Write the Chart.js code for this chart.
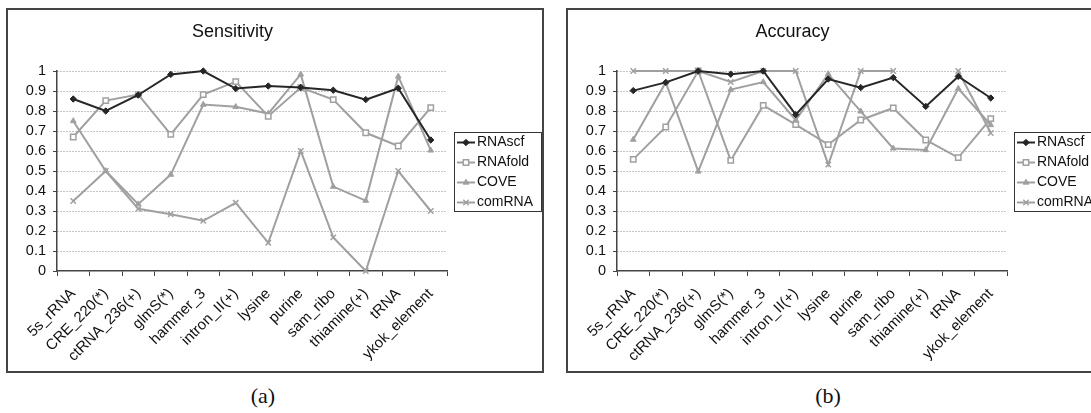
<!DOCTYPE html>
<html>
<head>
<meta charset="utf-8">
<script src="https://cdn.jsdelivr.net/npm/chart.js@4/dist/chart.umd.min.js"></script>
<style>
  html, body { margin: 0; padding: 0; background: #fff; }
  body { width: 1091px; height: 413px; overflow: hidden; position: relative; }
  .panel { position: absolute; top: 8px; width: 538px; height: 365px; border: 2px solid #444; box-sizing: border-box; background: #fff; }
  .panel canvas { display: block; }
  .caption { position: absolute; top: 383px; width: 60px; text-align: center; font: 22px "Liberation Serif", "DejaVu Serif", serif; color: #111; }
</style>
</head>
<body>
<div class="panel" style="left:6px"><canvas id="sensChart"></canvas></div>
<div class="panel" style="left:566px"><canvas id="accChart"></canvas></div>
<div class="caption" style="left:233px">(a)</div>
<div class="caption" style="left:798px">(b)</div>

<script>
// ===== Data =====
const categories = ["5s_rRNA", "CRE_220(*)", "ctRNA_236(+)", "glmS(*)", "hammer_3", "intron_II(+)",
  "lysine", "purine", "sam_ribo", "thiamine(+)", "tRNA", "ykok_element"];
const seriesNames = ["RNAscf", "RNAfold", "COVE", "comRNA"];

// Sensitivity (a)
const sensRNAscf  = [0.86, 0.80, 0.88, 0.983, 1.0, 0.912, 0.925, 0.918, 0.904, 0.857, 0.914, 0.655];
const sensRNAfold = [0.67, 0.852, 0.882, 0.683, 0.882, 0.947, 0.774, 0.917, 0.857, 0.691, 0.625, 0.817];
const sensCOVE    = [0.75, 0.50, 0.334, 0.482, 0.832, 0.821, 0.787, 0.983, 0.422, 0.352, 0.973, 0.603];
const sensComRNA  = [0.35, 0.50, 0.311, 0.284, 0.251, 0.341, 0.141, 0.60, 0.168, 0.0, 0.50, 0.30];

// Accuracy (b) - comRNA has no value for thiamine(+)
const accRNAscf  = [0.902, 0.943, 1.0, 0.984, 1.0, 0.782, 0.96, 0.917, 0.967, 0.823, 0.973, 0.865];
const accRNAfold = [0.558, 0.72, 1.0, 0.553, 0.828, 0.732, 0.632, 0.755, 0.815, 0.655, 0.567, 0.762];
const accCOVE    = [0.657, 0.943, 0.498, 0.907, 0.945, 0.755, 0.985, 0.798, 0.613, 0.605, 0.912, 0.73];
const accComRNA  = [1, 1, 1, 0.945, 1, 1, 0.532, 1, 1, null, 1, 0.69];

const yMin = 0, yMax = 1, yStep = 0.1;

// ===== Styles =====
const FONT = '"Liberation Sans", Arial, sans-serif';
const DARK = "#262626";
const GRAY = "#a0a0a0";

const seriesStyle = [
  { color: DARK, pointStyle: "rectRot", radius: 3.2, fill: DARK, borderW: 1 },
  { color: GRAY, pointStyle: "rect", radius: 3.8, fill: "#fff", borderW: 1.5 },
  { color: GRAY, pointStyle: "triangle", radius: 3.3, fill: GRAY, borderW: 1 },
  { color: GRAY, pointStyle: "crossRot", radius: 3.8, fill: GRAY, borderW: 1.5 }
];

function makeDatasets(values) {
  return values.map((vals, i) => {
    const s = seriesStyle[i];
    return {
      label: seriesNames[i],
      data: vals,
      borderColor: s.color,
      borderWidth: 2,
      tension: 0,
      spanGaps: false,
      clip: false,
      pointStyle: s.pointStyle,
      pointRadius: s.radius,
      pointHoverRadius: s.radius,
      pointBackgroundColor: s.fill,
      pointBorderColor: s.color,
      pointBorderWidth: s.borderW
    };
  });
}

// Excel-style boxed legend on the right of the plot
const boxLegend = {
  id: "boxLegend",
  afterDraw(chart) {
    const { ctx, chartArea } = chart;
    const sets = chart.data.datasets;
    const rowH = 20, w = 87, h = rowH * sets.length - 1;
    const x = Math.round(chartArea.right + 7);
    const y = Math.round((chartArea.top + chartArea.bottom) / 2 - h / 2);
    ctx.save();
    ctx.fillStyle = "#fff";
    ctx.fillRect(x, y, w, h);
    ctx.strokeStyle = "#333";
    ctx.lineWidth = 1;
    ctx.strokeRect(x + 0.5, y + 0.5, w, h);
    sets.forEach((ds, i) => {
      const cy = y + 10.5 + i * rowH;
      ctx.strokeStyle = ds.borderColor;
      ctx.lineWidth = 2;
      ctx.beginPath();
      ctx.moveTo(x + 3, cy);
      ctx.lineTo(x + 21, cy);
      ctx.stroke();
      ctx.fillStyle = ds.pointBackgroundColor;
      ctx.strokeStyle = ds.pointBorderColor;
      ctx.lineWidth = ds.pointBorderWidth;
      Chart.helpers.drawPoint(ctx, {
        pointStyle: ds.pointStyle, radius: ds.pointRadius, rotation: 0, borderWidth: ds.pointBorderWidth
      }, x + 12, cy);
      ctx.fillStyle = "#111";
      ctx.font = "14px " + FONT;
      ctx.textBaseline = "middle";
      ctx.textAlign = "left";
      ctx.fillText(ds.label, x + 23, cy);
    });
    ctx.restore();
  }
};

function makeChart(id, title, values) {
  return new Chart(document.getElementById(id), {
    type: "line",
    data: { labels: categories, datasets: makeDatasets(values) },
    options: {
      responsive: true,
      maintainAspectRatio: false,
      animation: false,
      layout: { padding: { left: 10, right: 95, top: 0, bottom: 10 } },
      plugins: {
        legend: { display: false },
        tooltip: { enabled: false },
        title: {
          display: true,
          text: title,
          color: "#111",
          font: { family: FONT, size: 18, weight: "normal" },
          padding: { top: 11, bottom: 28.4 }
        }
      },
      scales: {
        x: {
          offset: true,
          afterFit: s => { s.height = 90; },
          grid: {
            offset: true,
            drawOnChartArea: false,
            drawTicks: true,
            tickLength: 5,
            tickColor: "#444",
            tickWidth: 1
          },
          border: { display: true, color: "#444", width: 1.5 },
          ticks: {
            autoSkip: false,
            minRotation: 45,
            maxRotation: 45,
            padding: 9,
            color: "#111",
            font: { family: FONT, size: 15 }
          }
        },
        y: {
          min: yMin,
          max: yMax,
          afterFit: s => { s.width = 39; },
          grid: {
            color: c => (c.tick && c.tick.value === 0 ? "rgba(0,0,0,0)" : "#8a8a8a"),
            lineWidth: 1,
            drawTicks: true,
            tickLength: 4,
            tickColor: "#444"
          },
          border: { display: true, color: "#444", width: 1.5, dash: [1, 2] },
          ticks: {
            stepSize: yStep,
            autoSkip: false,
            padding: 7,
            color: "#111",
            font: { family: FONT, size: 14.5 },
            callback: v => String(Math.round(v * 10) / 10)
          }
        }
      }
    },
    plugins: [boxLegend]
  });
}

makeChart("sensChart", "Sensitivity", [sensRNAscf, sensRNAfold, sensCOVE, sensComRNA]);
makeChart("accChart", "Accuracy", [accRNAscf, accRNAfold, accCOVE, accComRNA]);
</script>
</body>
</html>
